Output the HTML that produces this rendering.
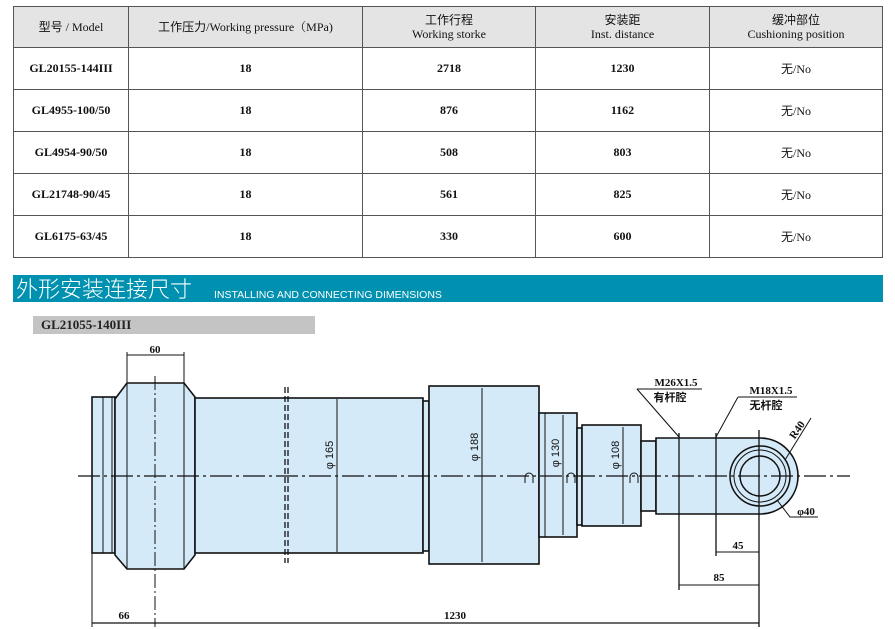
<!DOCTYPE html>
<html><head><meta charset="utf-8"><style>
body{margin:0;width:895px;height:630px;background:#fff;overflow:hidden;position:relative;font-family:"Liberation Serif","Noto Serif CJK SC",serif}
table{position:absolute;left:13px;top:6px;border-collapse:collapse;width:870px;font-size:12px}
td{border:1px solid #555;text-align:center;padding:0;color:#111}
tr.h td{background:#e4e4e4;height:40px;font-size:12px;line-height:14px}
tr.r td{height:41px;font-weight:bold;font-size:12px}
.cjk{font-family:"Liberation Sans","Noto Sans CJK SC",sans-serif}
#ban{position:absolute;left:13px;top:275px;width:870px;height:27px;background:#0090b0;color:#fff}
#ban .c{position:absolute;left:3px;top:0;font-size:22px;font-family:"Noto Sans CJK SC",sans-serif;font-weight:300;line-height:27px}
#ban .e{position:absolute;left:201px;top:14px;font-size:10.5px;font-family:"Liberation Sans",sans-serif;line-height:12px}
#lab{position:absolute;left:33px;top:316px;width:282px;height:18px;background:#c4c4c4;font-weight:bold;font-size:13px;line-height:18px;padding-left:8px;box-sizing:border-box;color:#222}
svg{position:absolute;left:0;top:0}
</style></head><body>
<table>
<tr class="h"><td style="width:114px"><span class="cjk">型号</span> / Model</td><td style="width:233px"><span class="cjk">工作压力</span>/Working pressure（MPa)</td><td style="width:172px"><span class="cjk">工作行程</span><br>Working storke</td><td style="width:173px"><span class="cjk">安装距</span><br>Inst. distance</td><td><span class="cjk">缓冲部位</span><br>Cushioning position</td></tr>
<tr class="r"><td>GL20155-144III</td><td>18</td><td>2718</td><td>1230</td><td style="font-weight:normal"><span class="cjk">无</span>/No</td></tr>
<tr class="r"><td>GL4955-100/50</td><td>18</td><td>876</td><td>1162</td><td style="font-weight:normal"><span class="cjk">无</span>/No</td></tr>
<tr class="r"><td>GL4954-90/50</td><td>18</td><td>508</td><td>803</td><td style="font-weight:normal"><span class="cjk">无</span>/No</td></tr>
<tr class="r"><td>GL21748-90/45</td><td>18</td><td>561</td><td>825</td><td style="font-weight:normal"><span class="cjk">无</span>/No</td></tr>
<tr class="r"><td>GL6175-63/45</td><td>18</td><td>330</td><td>600</td><td style="font-weight:normal"><span class="cjk">无</span>/No</td></tr>
</table>
<div id="ban"><span class="c">外形安装连接尺寸</span><span class="e">INSTALLING AND CONNECTING DIMENSIONS</span></div>
<div id="lab">GL21055-140III</div>
<svg width="895" height="630" viewBox="0 0 895 630">
<g fill="#d4eaf8" stroke="#111" stroke-width="1.6">
<rect x="92" y="397" width="23" height="156"/>
<polygon points="115,399 127,383 184,383 195,397 195,555 184,569 127,569 115,555"/>
<rect x="195" y="398" width="228" height="155"/>
<rect x="423" y="401" width="6" height="150"/>
<rect x="429" y="386" width="110" height="178"/>
<rect x="539" y="413" width="38" height="124"/>
<rect x="577" y="428" width="5" height="97"/>
<rect x="582" y="425" width="59" height="101"/>
<rect x="641" y="441" width="15" height="70"/>
<path d="M656,438 H760 A38,38 0 0 1 760,514 H656 Z"/>
</g>
<g stroke="#111" fill="none" stroke-width="1">
<line x1="103" y1="397" x2="103" y2="553"/><line x1="112" y1="397" x2="112" y2="553"/>
<line x1="127" y1="383" x2="127" y2="569"/><line x1="184" y1="383" x2="184" y2="569"/>
<line x1="545" y1="413" x2="545" y2="537"/>
<circle cx="760" cy="476" r="30" stroke-width="1.5"/><circle cx="760" cy="476" r="26"/><circle cx="760" cy="476" r="20" stroke-width="1.5"/>
<line x1="679" y1="433" x2="679" y2="590" stroke-width="1.3"/>
<line x1="716" y1="433" x2="716" y2="556" stroke-width="1.3"/>
<line x1="759" y1="430" x2="759" y2="627" stroke-width="1.3"/>
<line x1="92" y1="553" x2="92" y2="627"/>
<line x1="155" y1="376" x2="155" y2="627" stroke-dasharray="14,3,2,3"/>
<line x1="78" y1="476" x2="850" y2="476" stroke-dasharray="22,4,3,4" stroke-width="1.2"/>
<line x1="285" y1="387" x2="285" y2="563" stroke-dasharray="6,3" stroke-width="1.3"/>
<line x1="288" y1="387" x2="288" y2="563" stroke-dasharray="6,3" stroke-width="1.3"/>
<line x1="337" y1="399" x2="337" y2="552"/><line x1="482" y1="388" x2="482" y2="562"/>
<line x1="563" y1="415" x2="563" y2="535"/><line x1="623" y1="427" x2="623" y2="524"/>
<line x1="127" y1="355" x2="184" y2="355"/><line x1="127" y1="352" x2="127" y2="383"/><line x1="184" y1="352" x2="184" y2="383"/>
<line x1="716" y1="552" x2="759" y2="552"/>
<line x1="679" y1="585" x2="759" y2="585"/>
<line x1="92" y1="623" x2="759" y2="623" stroke-width="1.3"/>
<polyline points="637,389 702,389"/><line x1="637" y1="389" x2="679" y2="437"/>
<polyline points="738,397 797,397"/><line x1="738" y1="397" x2="716" y2="437"/>
<line x1="785" y1="460" x2="811" y2="418"/>
<polyline points="777,500 790,517 818,517"/>
<path d="M525,483 v-6 a4,4 0 0 1 8,0 v6 M567,483 v-6 a4,4 0 0 1 8,0 v6 M630,483 v-6 a4,4 0 0 1 8,0 v6"/>
</g>
<g font-family="Liberation Serif,serif" font-weight="bold" font-size="11" fill="#111" text-anchor="middle">
<text x="155" y="353">60</text><text x="124" y="619">66</text><text x="455" y="619">1230</text>
<text x="738" y="549">45</text><text x="719" y="581">85</text>
<text x="676" y="386">M26X1.5</text><text x="771" y="394">M18X1.5</text>
<text x="806" y="515">φ40</text>
<text x="0" y="0" transform="translate(800,432) rotate(-55)">R40</text>
</g>
<g font-family="Noto Sans CJK SC,sans-serif" font-weight="bold" font-size="11" fill="#111" text-anchor="middle">
<text x="670" y="401">有杆腔</text><text x="766" y="409">无杆腔</text>
</g>
<g font-family="Liberation Sans,sans-serif" font-size="11" fill="#111" text-anchor="middle">
<text transform="translate(333,455) rotate(-90)">φ 165</text>
<text transform="translate(478,447) rotate(-90)">φ 188</text>
<text transform="translate(559,453) rotate(-90)">φ 130</text>
<text transform="translate(619,455) rotate(-90)">φ 108</text>
</g>
</svg>
</body></html>
